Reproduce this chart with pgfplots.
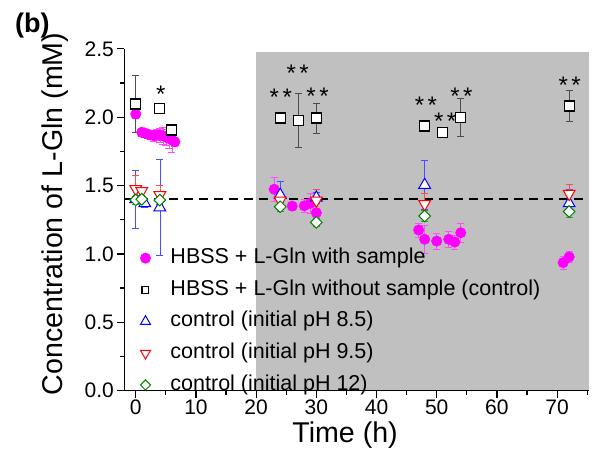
\documentclass[border=0pt]{standalone}
\usepackage{pgfplots}
\pgfplotsset{compat=1.18}
\usepackage{fontspec}
\setmainfont{Liberation Sans}
\definecolor{graybg}{RGB}{192,192,192}
\definecolor{mag}{RGB}{255,0,255}
\definecolor{dgreen}{RGB}{0,128,0}
\begin{document}
\begin{tikzpicture}
\path[use as bounding box] (-124.3bp,-71.4bp) rectangle (467.7bp,390.6bp);
\begin{axis}[
  at={(0,0)}, anchor=south west,
  scale only axis, width=464.7bp, height=341.7bp,
  xmin=-1.9, xmax=75.3, ymin=0, ymax=2.5,
  axis x line*=bottom, axis y line*=left,
  axis line style={line width=1.2bp, -},
  tick align=outside, major tick length=7bp, minor tick length=4bp,
  every tick/.style={line width=1.2bp, black},
  xtick={0,10,...,70}, minor xtick={5,15,...,75},
  ytick={0,0.5,...,2.5}, minor ytick={0.25,0.75,...,2.25},
  yticklabel style={/pgf/number format/fixed, /pgf/number format/fixed zerofill, /pgf/number format/precision=1},
  /pgf/number format/assume math mode=true,
  ticklabel style={font=\fontsize{21bp}{21bp}\selectfont},
  xticklabel style={yshift=1bp},
  xlabel={Time (h)}, ylabel={Concentration of L-Gln (mM)},
  label style={font=\fontsize{28.6bp}{28.6bp}\selectfont},
  xlabel style={at={(rel axis cs:0.475,0)}, anchor=north, yshift=-31bp, inner sep=0pt},
  ylabel style={at={(rel axis cs:0,0.517)}, anchor=center, yshift=69.3bp, inner sep=0pt},
  axis on top,
  legend style={draw=none, fill=none, at={(rel axis cs:0.034,-0.014)}, anchor=south west,
     font=\fontsize{21.5bp}{21.5bp}\selectfont, row sep=11.2bp, column sep=19.8bp, inner sep=0pt,
     nodes={inner sep=0pt, text height=15.5bp, text depth=5bp}},
  legend cell align=left,
  legend image code/.code={\path (0bp,-9bp) (0bp,9bp); \draw[#1] plot coordinates {(0bp,0bp)};},
  clip=false,
]
\fill[graybg] (axis cs:20,0) rectangle (axis cs:75.3,2.48);
\addplot[black, line width=1.6bp, dash pattern=on 9bp off 6bp, forget plot] coordinates {(-1.9,1.4) (75.3,1.4)};

% HBSS + L-Gln with sample
\addplot[only marks, mark=*, mark size=5.2bp, color=mag, mark options={fill=mag, line width=0.5bp},
  error bars/.cd, y dir=both, y explicit, error bar style={line width=0.6bp, mag!70},
  error mark options={rotate=90, mark size=3.5bp, line width=0.6bp, mag!70}]
  table[x=t, y=y, y error=e] {
t y e
0 2.023 0.03
1.0 1.89 0.03
1.5 1.885 0.03
2.0 1.875 0.03
2.5 1.87 0.03
3.0 1.865 0.04
3.5 1.87 0.04
4.0 1.87 0.05
4.5 1.865 0.06
5.0 1.855 0.06
5.5 1.845 0.07
6.0 1.835 0.09
6.5 1.82 0.03
23 1.473 0.09
26 1.350 0.03
28 1.352 0.05
29 1.37 0.07
30 1.301 0.03
47 1.175 0.05
48 1.107 0.10
50 1.094 0.06
52 1.107 0.06
53 1.087 0.05
54 1.155 0.07
71 0.936 0.05
72 0.978 0.04
};
\addlegendentry{HBSS + L-Gln with sample}

% without sample (control)
\addplot[only marks, mark=square*, mark size=5bp, color=black, mark options={fill=white, line width=1.2bp},
  legend image post style={mark size=3.4bp},
  error bars/.cd, y dir=both, y explicit, error bar style={line width=0.8bp, black!70},
  error mark options={rotate=90, mark size=3.5bp, line width=0.8bp, black!70}]
  table[x=t, y=y, y error=e] {
t y e
0 2.097 0.21
4 2.065 0.02
6 1.906 0.03
24 1.994 0.04
27 1.977 0.20
30 1.994 0.11
48 1.936 0.02
51 1.889 0.03
54 1.999 0.14
72 2.082 0.116
};
\addlegendentry{HBSS + L-Gln without sample (control)}

% pH 8.5
\addplot[only marks, mark=triangle*, mark size=6.8bp, color=blue, mark options={fill=white, line width=1bp},
  legend image post style={mark size=5.8bp},
  error bars/.cd, y dir=both, y explicit, error bar style={line width=0.6bp, blue!70},
  error mark options={rotate=90, mark size=3.5bp, line width=0.6bp, blue!70}]
  table[x=t, y=y, y error=e] {
t y e
0 1.40 0.21
1.5 1.37 0.03
4 1.34 0.35
24 1.431 0.10
30 1.411 0.04
48 1.504 0.18
72 1.37 0.10
};
\addlegendentry{control (initial pH 8.5)}

% pH 9.5
\addplot[only marks, mark=triangle*, mark size=6.8bp, color=red, mark options={fill=white, line width=1bp, rotate=180},
  legend image post style={mark size=5.8bp},
  error bars/.cd, y dir=both, y explicit, error bar style={line width=0.6bp, red!70},
  error mark options={rotate=90, mark size=3.5bp, line width=0.6bp, red!70}]
  table[x=t, y=y, y error=e] {
t y e
0 1.475 0.10
1 1.46 0.03
4 1.43 0.07
24 1.39 0.03
30 1.39 0.08
48 1.365 0.08
72 1.44 0.07
};
\addlegendentry{control (initial pH 9.5)}

% pH 12
\addplot[only marks, mark=square*, mark size=4.1bp, color=dgreen, mark options={fill=white, line width=1bp, rotate=45},
  legend image post style={mark size=3.6bp},
  error bars/.cd, y dir=both, y explicit, error bar style={line width=0.6bp, dgreen!80},
  error mark options={rotate=90, mark size=3.5bp, line width=0.6bp, dgreen!80}]
  table[x=t, y=y, y error=e] {
t y e
0 1.395 0.03
1 1.40 0.03
4 1.394 0.03
24 1.345 0.03
30 1.231 0.03
48 1.277 0.04
72 1.31 0.04
};
\addlegendentry{control (initial pH 12)}

% significance marks
\tikzset{ast/.style={font=\fontsize{24bp}{24bp}\selectfont, anchor=base, yshift=-12.6bp, inner sep=0pt}}
\node[ast] at (axis cs:4.15,2.199) {*};
\node[ast] at (axis cs:24.1,2.175) {*\hspace{3.5bp}*};
\node[ast] at (axis cs:26.9,2.352) {*\hspace{3.5bp}*};
\node[ast] at (axis cs:30.2,2.187) {*\hspace{3.5bp}*};
\node[ast] at (axis cs:48.2,2.118) {*\hspace{3.5bp}*};
\node[ast] at (axis cs:51.4,2.0) {*\hspace{3.5bp}*};
\node[ast] at (axis cs:54.1,2.187) {*\hspace{3.5bp}*};
\node[ast] at (axis cs:72.1,2.265) {*\hspace{3.5bp}*};
\end{axis}
\node[anchor=west, inner sep=0pt, font=\bfseries\fontsize{27bp}{27bp}\selectfont] at (-109.3bp,365.1bp) {(b)};
\end{tikzpicture}
\end{document}
